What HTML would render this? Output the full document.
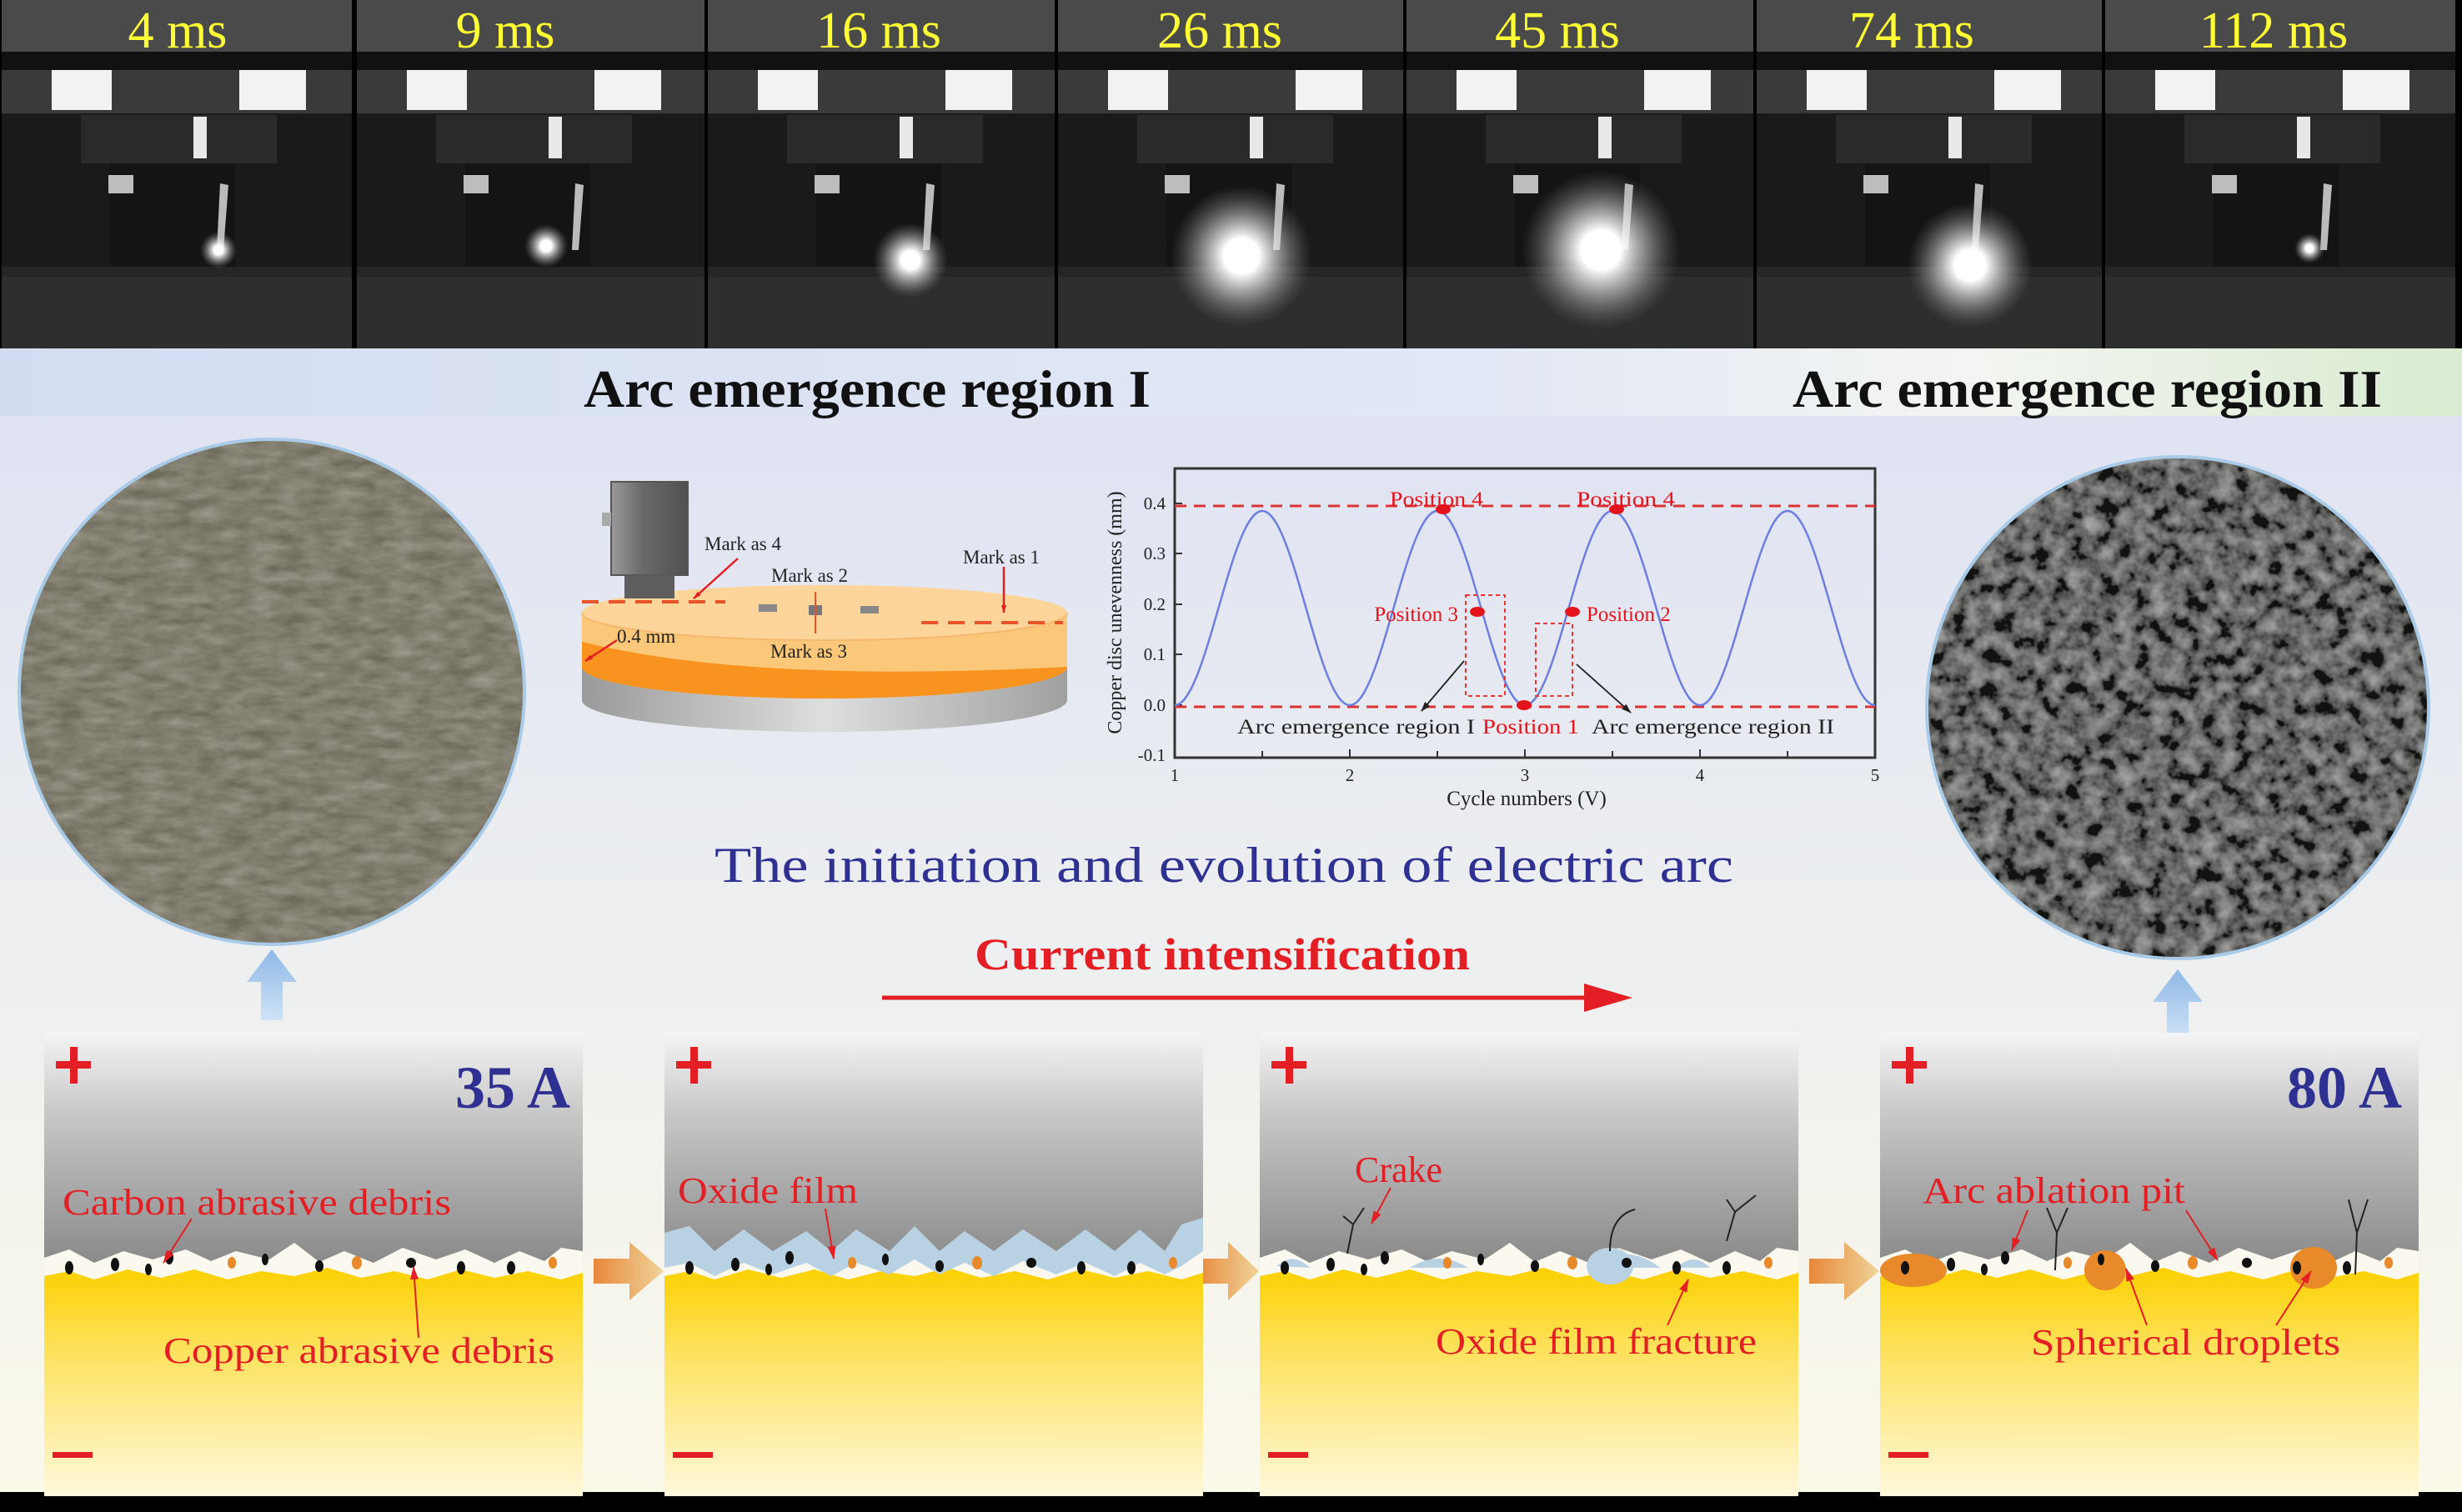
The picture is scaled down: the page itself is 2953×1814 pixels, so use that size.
<!DOCTYPE html>
<html><head><meta charset="utf-8">
<style>
html,body{margin:0;padding:0;background:#000;}
svg{display:block;font-family:"Liberation Serif","Times New Roman",serif;}
text{font-family:"Liberation Serif","Times New Roman",serif;}
</style></head>
<body>
<svg width="2953" height="1814" viewBox="0 0 2953 1814" xmlns="http://www.w3.org/2000/svg" font-family="Liberation Serif, serif">
<defs>
  <linearGradient id="bg" x1="0" y1="0" x2="0" y2="1">
    <stop offset="0" stop-color="#dfe3f2"/>
    <stop offset="0.45" stop-color="#eceef0"/>
    <stop offset="1" stop-color="#fbf9ea"/>
  </linearGradient>
  <linearGradient id="band" x1="0" y1="0" x2="1" y2="0">
    <stop offset="0" stop-color="#d3ddf1"/>
    <stop offset="0.6" stop-color="#e2e8f5"/>
    <stop offset="0.8" stop-color="#f3f5f2"/>
    <stop offset="1" stop-color="#d9ebd0"/>
  </linearGradient>
  <linearGradient id="gray" x1="0" y1="0" x2="0" y2="1">
    <stop offset="0" stop-color="#f4f4f4"/>
    <stop offset="0.35" stop-color="#c8c8c8"/>
    <stop offset="1" stop-color="#8a8a8a"/>
  </linearGradient>
  <linearGradient id="yel" x1="0" y1="0" x2="0" y2="1">
    <stop offset="0" stop-color="#fcd000"/>
    <stop offset="0.35" stop-color="#fde15a"/>
    <stop offset="1" stop-color="#fff8dc"/>
  </linearGradient>
  <linearGradient id="upar" x1="0" y1="0" x2="0" y2="1">
    <stop offset="0" stop-color="#8fb8e6"/>
    <stop offset="1" stop-color="#cfe3f6"/>
  </linearGradient>
  <linearGradient id="orar" x1="0" y1="0" x2="1" y2="0">
    <stop offset="0" stop-color="#e8883a"/>
    <stop offset="1" stop-color="#efd49a"/>
  </linearGradient>
  <linearGradient id="discG" x1="0" y1="0" x2="1" y2="0">
    <stop offset="0" stop-color="#9a9a9a"/>
    <stop offset="0.5" stop-color="#dedede"/>
    <stop offset="1" stop-color="#a0a0a0"/>
  </linearGradient>
  <linearGradient id="holder" x1="0" y1="0" x2="1" y2="0">
    <stop offset="0" stop-color="#9a9a9a"/>
    <stop offset="0.4" stop-color="#6a6a6a"/>
    <stop offset="1" stop-color="#505050"/>
  </linearGradient>
  <radialGradient id="glow">
    <stop offset="0" stop-color="#ffffff"/>
    <stop offset="0.25" stop-color="#ffffff"/>
    <stop offset="0.6" stop-color="#d8d8d8" stop-opacity="0.5"/>
    <stop offset="1" stop-color="#888" stop-opacity="0"/>
  </radialGradient>
  <filter id="noiseL" x="0" y="0" width="100%" height="100%">
    <feTurbulence type="fractalNoise" baseFrequency="0.03 0.08" numOctaves="3" seed="3"/>
    <feColorMatrix type="matrix" values="0 0 0 0 0.42  0 0 0 0 0.41  0 0 0 0 0.35  0.9 0.3 0 0 -0.3"/>
  </filter>
  <filter id="noiseR" x="0" y="0" width="100%" height="100%">
    <feTurbulence type="fractalNoise" baseFrequency="0.05" numOctaves="3" seed="7"/>
    <feColorMatrix type="matrix" values="1.1 0 0 0 -0.35  1.1 0 0 0 -0.35  1.1 0 0 0 -0.35  0 0 0 0 1"/>
  </filter>
  <clipPath id="cL"><circle cx="326" cy="830" r="303"/></clipPath>
  <clipPath id="cR"><circle cx="2612" cy="849" r="301"/></clipPath>
  <marker id="ah" markerWidth="10" markerHeight="10" refX="9" refY="5" orient="auto" markerUnits="userSpaceOnUse">
    <path d="M0,2 L10,5 L0,8 Z" fill="#e31e24"/>
  </marker>
  <marker id="ahb" markerWidth="12" markerHeight="12" refX="11" refY="6" orient="auto" markerUnits="userSpaceOnUse">
    <path d="M0,2 L12,6 L0,10 Z" fill="#222"/>
  </marker>
  <marker id="ahr" markerWidth="16" markerHeight="16" refX="15" refY="8" orient="auto" markerUnits="userSpaceOnUse">
    <path d="M0,3 L16,8 L0,13 Z" fill="#e31e24"/>
  </marker>
  <g id="photo">
    <rect x="0" y="0" width="420" height="418" fill="#1a1a1a"/>
    <rect x="0" y="0" width="420" height="62" fill="#4a4a4a"/>
    <rect x="0" y="62" width="420" height="22" fill="#111"/>
    <rect x="0" y="84" width="420" height="52" fill="#3a3a3a"/>
    <rect x="60" y="84" width="72" height="48" fill="#f2f2f2"/>
    <rect x="285" y="84" width="80" height="48" fill="#f2f2f2"/>
    <rect x="95" y="138" width="235" height="58" fill="#2a2a2a"/>
    <rect x="230" y="140" width="16" height="50" fill="#e8e8e8"/>
    <rect x="130" y="196" width="150" height="130" fill="#141414"/>
    <rect x="128" y="210" width="30" height="22" fill="#bdbdbd"/>
    <path d="M262,220 L272,222 L266,300 L258,300 Z" fill="#bbb"/>
    <rect x="0" y="330" width="420" height="88" fill="#2e2e2e"/>
    <rect x="0" y="320" width="420" height="12" fill="#262626"/>
  </g>
</defs>

<rect x="0" y="0" width="2953" height="1814" fill="#000"/>
<rect x="0" y="499" width="2953" height="1291" fill="url(#bg)"/>
<rect x="0" y="418" width="2953" height="81" fill="url(#band)"/>

<g>
  <use href="#photo" x="2" y="0"/>
  <use href="#photo" x="428" y="0"/>
  <use href="#photo" x="849" y="0"/>
  <use href="#photo" x="1269" y="0"/>
  <use href="#photo" x="1687" y="0"/>
  <use href="#photo" x="2107" y="0"/>
  <use href="#photo" x="2525" y="0"/>
  <circle cx="262" cy="300" r="22" fill="url(#glow)"/>
  <circle cx="655" cy="295" r="26" fill="url(#glow)"/>
  <circle cx="1092" cy="312" r="45" fill="url(#glow)"/>
  <circle cx="1489" cy="307" r="85" fill="url(#glow)"/>
  <circle cx="1920" cy="300" r="95" fill="url(#glow)"/>
  <circle cx="2363" cy="318" r="75" fill="url(#glow)"/>
  <circle cx="2770" cy="298" r="18" fill="url(#glow)"/>
  <g fill="#000">
    <rect x="424" y="0" width="4" height="418"/>
    <rect x="845" y="0" width="4" height="418"/>
    <rect x="1265" y="0" width="4" height="418"/>
    <rect x="1683" y="0" width="4" height="418"/>
    <rect x="2103" y="0" width="4" height="418"/>
    <rect x="2521" y="0" width="4" height="418"/>
  </g>
  <g fill="#ffff33" font-size="62" text-anchor="middle">
    <text x="213" y="57">4 ms</text>
    <text x="606" y="57">9 ms</text>
    <text x="1054" y="57">16 ms</text>
    <text x="1463" y="57">26 ms</text>
    <text x="1868" y="57">45 ms</text>
    <text x="2293" y="57">74 ms</text>
    <text x="2727" y="57">112 ms</text>
  </g>
</g>

<text x="700" y="488" font-size="64" font-weight="bold" fill="#111" textLength="680" lengthAdjust="spacingAndGlyphs">Arc emergence region  I</text>
<text x="2150" y="488" font-size="64" font-weight="bold" fill="#111" textLength="707" lengthAdjust="spacingAndGlyphs">Arc emergence region  II</text>

<g clip-path="url(#cL)">
  <rect x="20" y="525" width="612" height="612" fill="#6f6b5c"/>
  <rect x="20" y="525" width="612" height="612" filter="url(#noiseL)"/>
</g>
<circle cx="326" cy="830" r="303" fill="none" stroke="#a9cbe8" stroke-width="4"/>
<g clip-path="url(#cR)">
  <rect x="2310" y="547" width="604" height="604" fill="#3c3c3a"/>
  <rect x="2310" y="547" width="604" height="604" filter="url(#noiseR)" opacity="0.7"/>
</g>
<circle cx="2612" cy="849" r="301" fill="none" stroke="#a9cbe8" stroke-width="4"/>

<path d="M326,1139 L356,1178 L339,1178 L339,1224 L313,1224 L313,1178 L296,1178 Z" fill="url(#upar)"/>
<path d="M2612,1163 L2642,1202 L2625,1202 L2625,1248 L2599,1248 L2599,1202 L2582,1202 Z" fill="url(#upar)"/>

<g>
  <path d="M698,800 L698,840 A291,38 0 0 0 1280,840 L1280,800 Z" fill="url(#discG)"/>
  <path d="M698,735 L698,800 A291,38 0 0 0 1280,800 L1280,735 Z" fill="#fbc778"/>
  <path d="M698,770 Q900,820 1280,800 A291,38 0 0 1 698,800 Z" fill="#f7931e"/>
  <ellipse cx="989" cy="735" rx="291" ry="33" fill="#fdd49a"/>
  <path d="M698,735 A291,33 0 0 0 1280,735" fill="none" stroke="#f5b870" stroke-width="2"/>
  <rect x="733" y="578" width="92" height="112" fill="url(#holder)" stroke="#555" stroke-width="2"/>
  <rect x="722" y="615" width="11" height="16" fill="#aaa"/>
  <rect x="749" y="690" width="60" height="28" fill="#5e5e5e"/>
  <line x1="698" y1="722" x2="870" y2="722" stroke="#e8542a" stroke-width="4" stroke-dasharray="20,12"/>
  <line x1="1105" y1="747" x2="1275" y2="747" stroke="#e8542a" stroke-width="4" stroke-dasharray="20,12"/>
  <rect x="910" y="725" width="22" height="9" fill="#888"/>
  <rect x="1032" y="727" width="22" height="9" fill="#888"/>
  <rect x="970" y="726" width="16" height="12" fill="#777"/>
  <line x1="978" y1="710" x2="978" y2="760" stroke="#e8542a" stroke-width="2"/>
  <line x1="885" y1="670" x2="832" y2="718" stroke="#e31e24" stroke-width="2.5" marker-end="url(#ah)"/>
  <line x1="1204" y1="680" x2="1204" y2="735" stroke="#e31e24" stroke-width="2.5" marker-end="url(#ah)"/>
  <line x1="740" y1="768" x2="702" y2="793" stroke="#e31e24" stroke-width="2.5" marker-end="url(#ah)"/>
  <g font-size="23" fill="#222">
    <text x="845" y="660">Mark as 4</text>
    <text x="925" y="698">Mark as 2</text>
    <text x="1155" y="676">Mark as 1</text>
    <text x="740" y="771">0.4 mm</text>
    <text x="924" y="789">Mark as 3</text>
  </g>
</g>

<g>
  <rect x="1409" y="562" width="840" height="347" fill="none" stroke="#333" stroke-width="3"/>
  <g stroke="#333" stroke-width="2">
    <line x1="1409" y1="604" x2="1418" y2="604"/><line x1="1409" y1="664" x2="1418" y2="664"/>
    <line x1="1409" y1="725" x2="1418" y2="725"/><line x1="1409" y1="785" x2="1418" y2="785"/>
    <line x1="1409" y1="846" x2="1418" y2="846"/>
    <line x1="1514" y1="909" x2="1514" y2="901"/><line x1="1619" y1="909" x2="1619" y2="899"/>
    <line x1="1724" y1="909" x2="1724" y2="901"/><line x1="1829" y1="909" x2="1829" y2="899"/>
    <line x1="1934" y1="909" x2="1934" y2="901"/><line x1="2039" y1="909" x2="2039" y2="899"/>
    <line x1="2144" y1="909" x2="2144" y2="901"/>
  </g>
  <line x1="1409" y1="607" x2="2249" y2="607" stroke="#d33" stroke-width="3" stroke-dasharray="14,9"/>
  <line x1="1409" y1="848" x2="2249" y2="848" stroke="#d33" stroke-width="3" stroke-dasharray="14,9"/>
  <path d="M1409,846 C1447,846 1476,613 1514,613 C1552,613 1581,846 1619,846 C1657,846 1686,613 1724,613 C1762,613 1791,846 1829,846 C1867,846 1896,613 1934,613 C1972,613 2001,846 2039,846 C2077,846 2106,613 2144,613 C2182,613 2211,846 2249,846" fill="none" stroke="#6c7fe0" stroke-width="2.5"/>
  <rect x="1758" y="714" width="47" height="121" fill="none" stroke="#e33" stroke-width="2" stroke-dasharray="5,4"/>
  <rect x="1842" y="748" width="44" height="87" fill="none" stroke="#e33" stroke-width="2" stroke-dasharray="5,4"/>
  <g fill="#e3141c">
    <ellipse cx="1731" cy="611" rx="9" ry="6"/>
    <ellipse cx="1939" cy="611" rx="9" ry="6"/>
    <ellipse cx="1772" cy="734" rx="9" ry="6"/>
    <ellipse cx="1886" cy="734" rx="9" ry="6"/>
    <ellipse cx="1828" cy="846" rx="9" ry="6"/>
  </g>
  <line x1="1756" y1="793" x2="1705" y2="853" stroke="#222" stroke-width="1.8" marker-end="url(#ahb)"/>
  <line x1="1891" y1="797" x2="1956" y2="855" stroke="#222" stroke-width="1.8" marker-end="url(#ahb)"/>
  <g font-size="25" fill="#e3141c">
    <text x="1667" y="607" textLength="112" lengthAdjust="spacingAndGlyphs">Position 4</text>
    <text x="1891" y="607" textLength="118" lengthAdjust="spacingAndGlyphs">Position 4</text>
    <text x="1749" y="745" text-anchor="end">Position 3</text>
    <text x="1903" y="745">Position 2</text>
    <text x="1778" y="880" textLength="116" lengthAdjust="spacingAndGlyphs">Position 1</text>
  </g>
  <g font-size="25" fill="#222">
    <text x="1484" y="880" textLength="285" lengthAdjust="spacingAndGlyphs">Arc emergence region I</text>
    <text x="1909" y="880" textLength="291" lengthAdjust="spacingAndGlyphs">Arc emergence region II</text>
  </g>
  <g font-size="21" fill="#222" text-anchor="end">
    <text x="1398" y="611">0.4</text><text x="1398" y="671">0.3</text>
    <text x="1398" y="732">0.2</text><text x="1398" y="792">0.1</text>
    <text x="1398" y="853">0.0</text><text x="1398" y="913">-0.1</text>
  </g>
  <g font-size="21" fill="#222" text-anchor="middle">
    <text x="1409" y="937">1</text><text x="1619" y="937">2</text><text x="1829" y="937">3</text>
    <text x="2039" y="937">4</text><text x="2249" y="937">5</text>
    <text x="1831" y="966" font-size="25">Cycle numbers (V)</text>
  </g>
  <text transform="translate(1345,735) rotate(-90)" font-size="24" fill="#222" text-anchor="middle">Copper disc unevenness (mm)</text>
</g>

<text x="857" y="1058" font-size="60" fill="#2e3192" textLength="1222" lengthAdjust="spacingAndGlyphs">The initiation and evolution of electric arc</text>
<text x="1169" y="1163" font-size="54" fill="#e31e24" font-weight="bold" textLength="594" lengthAdjust="spacingAndGlyphs">Current intensification</text>
<line x1="1058" y1="1197" x2="1915" y2="1197" stroke="#e31e24" stroke-width="5"/>
<path d="M1900,1180 L1958,1197 L1900,1214 Z" fill="#e31e24"/>

<path d="M712,1510 L755,1510 L755,1490 L796,1525 L755,1560 L755,1540 L712,1540 Z" fill="url(#orar)"/>
<path d="M1435,1510 L1473,1510 L1473,1490 L1510,1525 L1473,1560 L1473,1540 L1435,1540 Z" fill="url(#orar)"/>
<path d="M2170,1510 L2212,1510 L2212,1490 L2254,1525 L2212,1560 L2212,1540 L2170,1540 Z" fill="url(#orar)"/>

<defs>
  <g id="pbase">
    <rect x="0" y="0" width="646" height="556" fill="#fbf9ef"/>
    <path d="M0,0 H646 V262 L620,258 L600,274 L570,262 L540,276 L505,260 L470,272 L430,258 L395,276 L360,262 L330,275 L300,252 L270,272 L230,262 L200,274 L170,260 L130,272 L95,262 L60,276 L30,260 L0,270 Z" fill="url(#gray)"/>
    <path d="M0,292 L30,286 L60,296 L100,284 L140,294 L180,284 L220,296 L260,286 L300,292 L340,282 L380,294 L420,286 L460,296 L500,284 L540,294 L580,286 L620,296 L646,288 V556 H0 Z" fill="url(#yel)"/>
    <rect x="14" y="34" width="42" height="9" fill="#e31e24"/>
    <rect x="31" y="17" width="9" height="44" fill="#e31e24"/>
    <rect x="10" y="503" width="48" height="7" fill="#e31e24"/>
  </g>
  <g id="debris">
    <ellipse cx="30" cy="282" rx="5" ry="8" fill="#111"/>
    <ellipse cx="85" cy="278" rx="5" ry="8" fill="#111"/>
    <ellipse cx="125" cy="284" rx="4" ry="7" fill="#111"/>
    <ellipse cx="150" cy="270" rx="5" ry="8" fill="#111"/>
    <ellipse cx="225" cy="276" rx="5" ry="7" fill="#e8892a"/>
    <ellipse cx="265" cy="272" rx="4" ry="7" fill="#111"/>
    <ellipse cx="330" cy="280" rx="5" ry="7" fill="#111"/>
    <ellipse cx="375" cy="276" rx="6" ry="8" fill="#e8892a"/>
    <ellipse cx="440" cy="276" rx="6" ry="6" fill="#111"/>
    <ellipse cx="500" cy="282" rx="5" ry="8" fill="#111"/>
    <ellipse cx="560" cy="282" rx="5" ry="8" fill="#111"/>
    <ellipse cx="610" cy="276" rx="5" ry="7" fill="#e8892a"/>
  </g>
</defs>

<g transform="translate(53,1239)">
  <use href="#pbase"/>
  <use href="#debris"/>
</g>
<text x="684" y="1329" font-size="72" font-weight="bold" fill="#2e3192" text-anchor="end">35 A</text>
<text x="75" y="1457" font-size="44" fill="#e31e24" textLength="466" lengthAdjust="spacingAndGlyphs">Carbon abrasive debris</text>
<line x1="230" y1="1462" x2="196" y2="1515" stroke="#e31e24" stroke-width="2" marker-end="url(#ahr)"/>
<text x="196" y="1635" font-size="44" fill="#e31e24" textLength="469" lengthAdjust="spacingAndGlyphs">Copper abrasive debris</text>
<line x1="502" y1="1605" x2="496" y2="1520" stroke="#e31e24" stroke-width="2" marker-end="url(#ahr)"/>

<g transform="translate(797,1239)">
  <use href="#pbase"/>
  <path d="M0,240 L30,232 L60,262 L95,236 L130,262 L170,238 L200,262 L230,236 L270,262 L300,232 L330,262 L360,238 L395,262 L430,236 L470,262 L505,236 L540,262 L570,236 L600,262 L620,230 L646,222 V262 L620,280 L600,290 L570,276 L540,292 L505,276 L470,290 L430,274 L395,292 L360,276 L330,290 L300,272 L270,290 L230,276 L200,292 L170,276 L130,290 L95,276 L60,292 L30,276 L0,282 Z" fill="#b9d2e3"/>
  <use href="#debris"/>
</g>
<text x="813" y="1443" font-size="44" fill="#e31e24" textLength="216" lengthAdjust="spacingAndGlyphs">Oxide film</text>
<line x1="990" y1="1450" x2="1000" y2="1510" stroke="#e31e24" stroke-width="2" marker-end="url(#ahr)"/>

<g transform="translate(1511,1239)">
  <use href="#pbase"/>
  <path d="M20,280 Q40,262 60,282 Z M180,282 Q215,260 250,282 Z M400,282 Q440,250 480,282 Z M500,282 Q520,262 540,282 Z" fill="#b9d2e3"/>
  <ellipse cx="420" cy="280" rx="28" ry="22" fill="#b9d2e3"/>
  <use href="#debris"/>
  <path d="M105,265 L112,230 L125,210 M112,230 L100,220" fill="none" stroke="#222" stroke-width="2"/>
  <path d="M420,262 Q420,220 450,212" fill="none" stroke="#222" stroke-width="2"/>
  <path d="M560,250 L570,215 L595,195 M570,215 L560,200" fill="none" stroke="#222" stroke-width="2"/>
</g>
<text x="1625" y="1418" font-size="44" fill="#e31e24">Crake</text>
<line x1="1668" y1="1425" x2="1645" y2="1468" stroke="#e31e24" stroke-width="2" marker-end="url(#ahr)"/>
<text x="1722" y="1624" font-size="44" fill="#e31e24" textLength="385" lengthAdjust="spacingAndGlyphs">Oxide film fracture</text>
<line x1="2000" y1="1590" x2="2025" y2="1535" stroke="#e31e24" stroke-width="2" marker-end="url(#ahr)"/>

<g transform="translate(2255,1239)">
  <use href="#pbase"/>
  <ellipse cx="40" cy="285" rx="40" ry="20" fill="#e8892a"/>
  <ellipse cx="270" cy="285" rx="25" ry="24" fill="#e8892a"/>
  <ellipse cx="520" cy="282" rx="28" ry="25" fill="#e8892a"/>
  <use href="#debris"/>
  <path d="M210,285 L212,240 L200,210 M212,240 L225,210" fill="none" stroke="#222" stroke-width="2"/>
  <path d="M570,290 L572,240 L562,200 M572,240 L585,200" fill="none" stroke="#222" stroke-width="2"/>
</g>
<text x="2881" y="1329" font-size="72" font-weight="bold" fill="#2e3192" text-anchor="end">80 A</text>
<text x="2306" y="1443" font-size="44" fill="#e31e24" textLength="315" lengthAdjust="spacingAndGlyphs">Arc ablation pit</text>
<line x1="2432" y1="1452" x2="2413" y2="1500" stroke="#e31e24" stroke-width="2" marker-end="url(#ahr)"/>
<line x1="2622" y1="1452" x2="2660" y2="1512" stroke="#e31e24" stroke-width="2" marker-end="url(#ahr)"/>
<text x="2436" y="1625" font-size="44" fill="#e31e24" textLength="371" lengthAdjust="spacingAndGlyphs">Spherical droplets</text>
<line x1="2575" y1="1590" x2="2550" y2="1522" stroke="#e31e24" stroke-width="2" marker-end="url(#ahr)"/>
<line x1="2730" y1="1590" x2="2772" y2="1525" stroke="#e31e24" stroke-width="2" marker-end="url(#ahr)"/>

<rect x="0" y="1796" width="2953" height="18" fill="#000"/>
</svg>
</body></html>
